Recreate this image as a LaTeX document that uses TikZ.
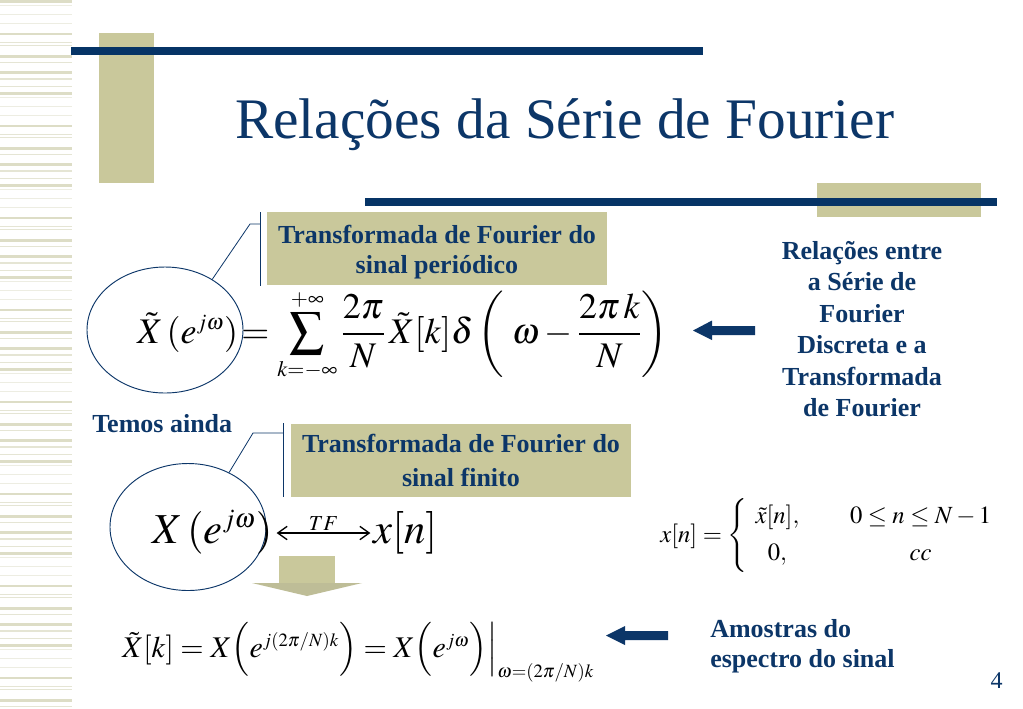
\documentclass[tikz,border=0pt]{standalone}
\usepackage{mathptmx}
\usepackage[no-math]{fontspec}
\setmainfont{Liberation Serif}
\DeclareMathSizes{27}{27}{16.5}{12.5}
\DeclareMathSizes{32}{32}{20}{15}
\DeclareMathSizes{22.5}{22.5}{14}{11}
\DeclareMathSizes{18.5}{18.5}{12.5}{9.5}
\usetikzlibrary{shapes.geometric,arrows.meta,calc}
\definecolor{navy}{RGB}{12,54,104}
\definecolor{barnavy}{RGB}{6,52,102}
\definecolor{khaki}{RGB}{201,200,155}
\definecolor{stD}{RGB}{221,221,198}
\definecolor{stM}{RGB}{229,229,212}
\definecolor{stL}{RGB}{237,237,226}
\newcommand{\smallsum}{\mathop{\vcenter{\hbox{\scalebox{0.95}{$\displaystyle\sum$}}}}\limits}
\begin{document}
\begin{tikzpicture}[x=0.75pt,y=-0.75pt,
  boxtext/.style={fill=khaki, text=navy, font=\fontsize{19.5}{22.5}\selectfont\bfseries,
    align=center, inner sep=0, minimum width=340*0.75pt, minimum height=73*0.75pt},
  bluetext/.style={text=navy, font=\fontsize{19.5}{23.55}\selectfont\bfseries, inner sep=0},
  mathbig/.style={inner sep=0, font=\fontsize{27}{32}\selectfont},
  callout/.style={draw=navy, line width=0.6pt},
  oval/.style={ellipse, draw=navy, line width=0.7pt, inner sep=0},
  navyarrow/.style={fill=navy, draw=none},
  bar/.style={fill=barnavy, draw=none},
  khakiblock/.style={fill=khaki, draw=none}]
\useasboundingbox (0,0) rectangle (1023,708);
\fill[white] (0,0) rectangle (1023,708);
% left stripes
\foreach \p in {-78,14,...,708}{
  \foreach \o/\w/\c in {0/1/stL,9/1/stL,18.5/2.5/stD,28/1/stM,30.5/1.5/stM,40.5/3/stD,47.5/1.5/stM,57/2.5/stD,64/2/stM,71.5/1.5/stM,77.5/3/stD,83/1/stL}{
    \fill[\c] (0,\p+\o) rectangle (72,\p+\o+\w);
  }
}
% decorative blocks and bars
\fill[khakiblock] (99,33) rectangle (154,183);
\fill[bar] (71,47) rectangle (703,55);
\fill[khakiblock] (817,183) rectangle (981,217);
\fill[bar] (365,198) rectangle (997,206);
% title
\node[anchor=base west, inner sep=0, text=navy, font=\fontsize{43}{50}\selectfont] (title) at (235,138) {Relações da Série de Fourier};
% box 1 and formula 1
\node[boxtext] (box1) at (437,248.5) {\rule{0pt}{19pt}Transformada de Fourier do\\sinal periódico};
\node[oval, minimum width=156*0.75pt, minimum height=126*0.75pt] (e1) at (165,330) {};
\coordinate (v1t) at (260,212);
\coordinate (v1b) at (260,286);
\coordinate (v1m) at (260,224);
\coordinate (k1) at (250,224);
\draw[callout] (v1t) -- (v1b);
\draw[callout] (v1m) -- (k1) -- (e1.47);
\node[mathbig, anchor=base west] (lhs1) at (137,343) {$\tilde{X}\,(e^{j\omega})$};
\node[mathbig, anchor=base west] (rhs1) at ([xshift=2pt]lhs1.base east) {$\displaystyle=\smallsum_{k=-\infty}^{+\infty}\frac{2\pi}{N}\,\tilde{X}[k]\delta\left(\;\omega-\frac{2\pi\,k}{N}\right)$};
% right explanatory text and arrow
\node[bluetext, align=center] (rel) at (862,329) {Relações entre\\a Série de\\Fourier\\Discreta e a\\Transformada\\de Fourier};
\fill[navyarrow] (755,326) -- (712,326) -- (712,320.5) -- (693,330.5) -- (712,340) -- (712,335) -- (755,335) -- cycle;
% Temos ainda
\node[bluetext, anchor=base west] (temos) at (92,432) {Temos ainda};
% box 2 and formula 2
\node[boxtext, font=\fontsize{19.5}{25}\selectfont\bfseries] (box2) at (461,460.5) {Transformada de Fourier do\\sinal finito};
\node[oval, minimum width=156*0.75pt, minimum height=127*0.75pt] (e2) at (188,527) {};
\coordinate (v2t) at (283,423);
\coordinate (v2b) at (283,497);
\coordinate (v2m) at (283,433);
\coordinate (k2) at (253,433);
\draw[callout] (v2t) -- (v2b);
\draw[callout] (v2m) -- (k2) -- (e2.53);
\node[inner sep=0, font=\fontsize{32}{40}\selectfont, anchor=base west] (X2) at (152,543) {$X\mkern2mu(e^{j\omega})$};
\node[inner sep=0, font=\fontsize{32}{40}\selectfont, anchor=base west] (xn) at (373,543) {$x[n]$};
\draw[line width=1pt, {Straight Barb[length=7pt,width=10pt]}-{Straight Barb[length=7pt,width=10pt]}]
  ([xshift=3pt,yshift=7.5pt]X2.base east) -- node[above=1.5pt, inner sep=0, font=\fontsize{16}{18}\selectfont] (tf) {$TF$} ([xshift=-2pt,yshift=7.5pt]xn.base west);
% piecewise definition
\node[inner sep=0, anchor=west, font=\fontsize{18.5}{22}\selectfont] (pw) at (660,536) {$x[n]=\left\{\;\,\begin{array}{@{}c@{\hspace{38pt}}c@{}}\tilde{x}[n], & 0\le n\le N-1\\[6pt] 0, & cc\end{array}\right.$};
% down block arrow
\fill[khakiblock] (279,556) rectangle (335,583);
\fill[khaki!85!gray] (252,583) -- (362,583) -- (307,596) -- cycle;
% formula 3
\node[inner sep=0, anchor=base west, font=\fontsize{22.5}{27}\selectfont] (f3) at (122,657) {$\tilde{X}[k]=X\Bigl(e^{j(2\pi/N)k}\Bigr)=X\Bigl(e^{j\omega}\Bigr)\Bigr|_{\omega=(2\pi/N)k}$};
\fill[navyarrow] (668,631) -- (625,631) -- (625,626) -- (606,635.5) -- (625,645) -- (625,640) -- (668,640) -- cycle;
\node[bluetext, align=left, anchor=north west, font=\fontsize{19.5}{22.5}\selectfont\bfseries] (amostras) at (710,619) {Amostras do\\espectro do sinal};
% page number
\node[inner sep=0, anchor=base, text=navy, font=\fontsize{18}{22}\selectfont] (pnum) at (996.5,688) {4};
\end{tikzpicture}
\end{document}
